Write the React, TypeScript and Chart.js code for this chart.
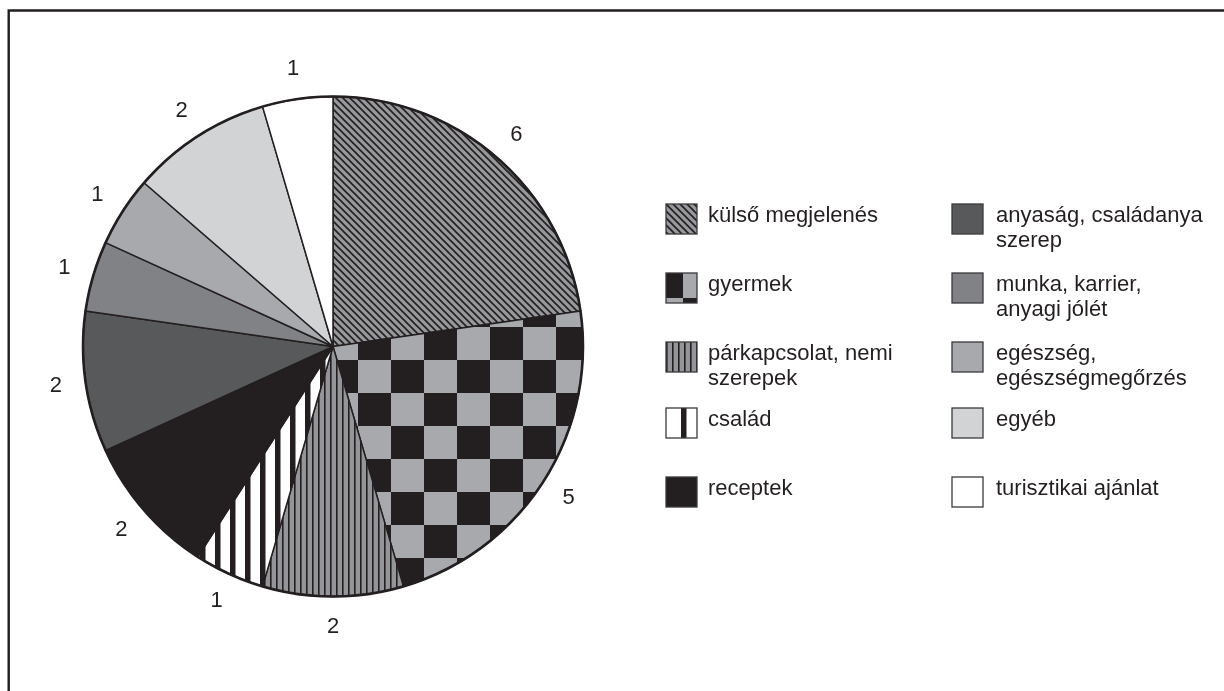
import React, { useEffect, useRef } from 'react';
import { Chart, registerables } from 'chart.js';

Chart.register(...registerables);

// ---- data ----
const categories: string[][] = [
  ['külső megjelenés'],
  ['gyermek'],
  ['párkapcsolat, nemi', 'szerepek'],
  ['család'],
  ['receptek'],
  ['anyaság, családanya', 'szerep'],
  ['munka, karrier,', 'anyagi jólét'],
  ['egészség,', 'egészségmegőrzés'],
  ['egyéb'],
  ['turisztikai ajánlat'],
];
// slice sizes as drawn in the picture (the first slice is drawn the same size as "gyermek")
const sliceShares = [5, 5, 2, 1, 2, 2, 1, 1, 2, 1];
// numbers printed next to the slices
const valueLabels = ['6', '5', '2', '1', '2', '2', '1', '1', '2', '1'];

// ---- styles ----
const INK = '#231f20';
const FONT = '"Liberation Sans", Arial, Helvetica, sans-serif';

function makeTile(w: number, h: number, draw: (c: CanvasRenderingContext2D) => void) {
  const cv = document.createElement('canvas');
  cv.width = w;
  cv.height = h;
  const c = cv.getContext('2d')!;
  draw(c);
  return cv;
}

function buildFills(ctx: CanvasRenderingContext2D): (string | CanvasPattern)[] {
  const diag = ctx.createPattern(
    makeTile(7, 7, (c) => {
      c.fillStyle = '#97989b';
      c.fillRect(0, 0, 7, 7);
      c.strokeStyle = INK;
      c.lineWidth = 1.6;
      c.beginPath();
      c.moveTo(-1, -1); c.lineTo(8, 8);
      c.moveTo(-1, 6); c.lineTo(1, 8);
      c.moveTo(6, -1); c.lineTo(8, 1);
      c.stroke();
    }),
    'repeat'
  )!;
  const checker = ctx.createPattern(
    makeTile(66, 66, (c) => {
      c.fillStyle = '#a7a9ac';
      c.fillRect(0, 0, 66, 66);
      c.fillStyle = INK;
      c.fillRect(0, 0, 33, 33);
      c.fillRect(33, 33, 33, 33);
    }),
    'repeat'
  )!;
  checker.setTransform(new DOMMatrix().translate(358, 327));
  const vert = ctx.createPattern(
    makeTile(6, 6, (c) => {
      c.fillStyle = '#939598';
      c.fillRect(0, 0, 6, 6);
      c.fillStyle = INK;
      c.fillRect(0, 0, 1.6, 6);
    }),
    'repeat'
  )!;
  const stripes = ctx.createPattern(
    makeTile(15, 15, (c) => {
      c.fillStyle = '#ffffff';
      c.fillRect(0, 0, 15, 15);
      c.fillStyle = INK;
      c.fillRect(5, 0, 5.5, 15);
    }),
    'repeat'
  )!;
  return [diag, checker, vert, stripes, INK, '#58595b', '#808285', '#a7a9ac', '#d1d3d4', '#ffffff'];
}

// legend layout
const LEGEND_SWATCH_X = [666, 952];
const LEGEND_TEXT_X = [708, 996];
const LEGEND_ROW_TOP = [204, 273, 342, 408, 477];

export default function App() {
  const ref = useRef<HTMLCanvasElement | null>(null);

  useEffect(() => {
    const canvas = ref.current!;
    const ctx = canvas.getContext('2d')!;
    const fills = buildFills(ctx);

    const outlinePlugin = {
      id: 'outlineAndLabels',
      afterDatasetsDraw(chart: any) {
        const c = chart.ctx as CanvasRenderingContext2D;
        const meta = chart.getDatasetMeta(0);
        const first = meta.data[0].getProps(['x', 'y', 'outerRadius'], true);
        c.save();
        c.beginPath();
        c.arc(first.x, first.y, first.outerRadius, 0, Math.PI * 2);
        c.lineWidth = 2.6;
        c.strokeStyle = INK;
        c.stroke();
        c.fillStyle = INK;
        c.font = `22px ${FONT}`;
        c.textAlign = 'center';
        c.textBaseline = 'middle';
        meta.data.forEach((arc: any, i: number) => {
          const p = arc.getProps(['x', 'y', 'startAngle', 'endAngle', 'outerRadius'], true);
          const mid = (p.startAngle + p.endAngle) / 2;
          const r = p.outerRadius + 30;
          c.fillText(valueLabels[i], p.x + Math.cos(mid) * r, p.y + Math.sin(mid) * r);
        });
        c.restore();
      },
    };

    const legendPlugin = {
      id: 'sideLegend',
      afterDraw(chart: any) {
        const c = chart.ctx as CanvasRenderingContext2D;
        c.save();
        c.font = `22px ${FONT}`;
        c.textBaseline = 'middle';
        c.textAlign = 'left';
        categories.forEach((lines, i) => {
          const col = i < 5 ? 0 : 1;
          const row = i % 5;
          const x = LEGEND_SWATCH_X[col];
          const y = LEGEND_ROW_TOP[row];
          const w = 31;
          const h = 30;
          if (i === 1) {
            c.fillStyle = INK; c.fillRect(x, y, 17, 25);
            c.fillStyle = '#a7a9ac'; c.fillRect(x + 17, y, w - 17, 25);
            c.fillStyle = '#a7a9ac'; c.fillRect(x, y + 25, 17, h - 25);
            c.fillStyle = INK; c.fillRect(x + 17, y + 25, w - 17, h - 25);
          } else if (i === 3) {
            c.fillStyle = '#ffffff'; c.fillRect(x, y, w, h);
            c.fillStyle = INK; c.fillRect(x + 15, y, 5.5, h);
          } else {
            c.fillStyle = fills[i] as any;
            c.fillRect(x, y, w, h);
          }
          c.strokeStyle = '#3a3a3c';
          c.lineWidth = 1.3;
          c.strokeRect(x, y, w, h);
          c.fillStyle = INK;
          lines.forEach((t, k) => {
            c.fillText(t, LEGEND_TEXT_X[col], y + 12 + k * 25);
          });
        });
        // frame
        c.strokeStyle = INK;
        c.lineWidth = 2.4;
        c.beginPath();
        c.moveTo(8.7, 691);
        c.lineTo(8.7, 10.5);
        c.lineTo(1224, 10.5);
        c.stroke();
        c.restore();
      },
    };

    const chart = new Chart(canvas, {
      type: 'pie',
      data: {
        labels: categories as any,
        datasets: [
          {
            data: sliceShares,
            backgroundColor: fills as any,
            borderColor: INK,
            borderWidth: 1.5,
            radius: 250,
          } as any,
        ],
      },
      options: {
        responsive: false,
        animation: false,
        layout: { padding: { left: 60, right: 618, top: 61, bottom: 59 } },
        plugins: {
          legend: { display: false },
          tooltip: { enabled: false },
        },
        events: [],
      },
      plugins: [outlinePlugin, legendPlugin],
    });
    return () => chart.destroy();
  }, []);

  return (
    <div style={{ position: 'fixed', left: 0, top: 0, width: 1224, height: 691, background: '#ffffff' }}>
      <canvas ref={ref} width={1224} height={691} style={{ display: 'block', width: 1224, height: 691 }} />
    </div>
  );
}
